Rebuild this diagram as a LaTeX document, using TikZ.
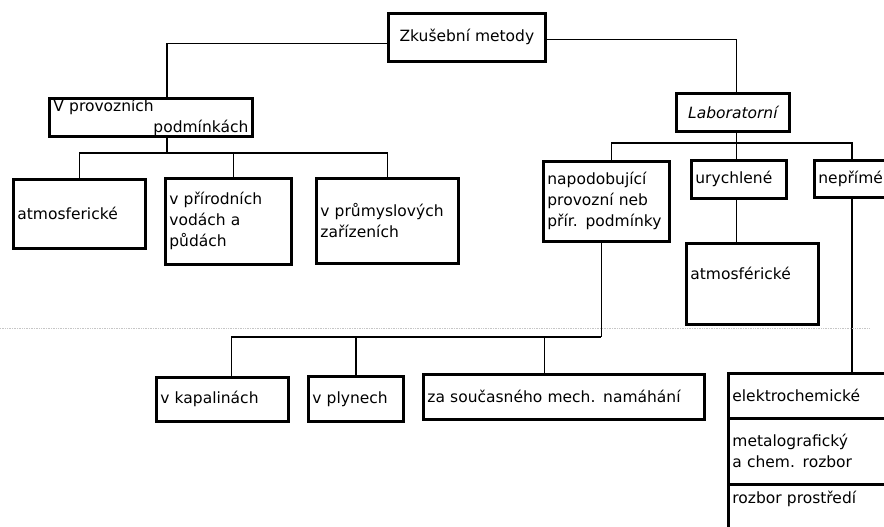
\documentclass[tikz,border=0pt]{standalone}
\usepackage{fontspec}
\setmainfont{DejaVu Sans}

\newcommand*{\wmax}{884}
\newcommand*{\hmax}{527}
\newcommand*{\pismo}{\fontsize{15.5}{21}\selectfont}

\begin{document}
\begin{tikzpicture}
[
	x=1pt,
	y=-1pt,
	blok/.style={draw,line width=2.8pt,anchor=north west,inner xsep=4pt,inner ysep=0pt,align=left,font=\pismo},
	spoj/.style={line width=1.7pt},
	sken/.style={gray!45,densely dotted,line width=0.7pt}
]

	% page
	\useasboundingbox (0,0) rectangle (\wmax,\hmax);
	\clip (0,0) rectangle (\wmax,\hmax);

	% top level
	\node[blok,align=center,minimum width=157pt,minimum height=48pt] (root) at (387,12) {Zkušební metody};
	\node[blok,text width=195pt,minimum height=38pt] (prov) at (48,97) {V provozních\\\hfill podmínkách};
	\node[blok,align=center,font=\pismo\itshape,minimum width=113pt,minimum height=38pt] (lab) at (675,92) {Laboratorní};

	% v provoznich podminkach
	\node[blok,text width=124pt,minimum height=69pt] (atm1) at (12,178) {atmosferické};
	\node[blok,text width=118pt,minimum height=86pt] (prir) at (164,177) {v přírodních\\vodách a\\půdách};
	\node[blok,text width=134pt,minimum height=85pt] (prum) at (315,177) {v průmyslových\\zařízeních};

	% laboratorni
	\node[blok,text width=118pt,minimum height=80pt] (napo) at (542,160) {napodobující\\provozní neb\\přír. podmínky};
	\node[blok,text width=87pt,minimum height=38pt] (uryc) at (690,159) {urychlené};
	\node[blok,text width=124pt,text height=36pt,text depth=45pt] (atm2) at (685,242) {atmosférické};
	\node[blok,text width=100pt,minimum height=37pt] (nepr) at (813,159) {nepřímé};

	% napodobujici
	\node[blok,text width=124pt,minimum height=44pt] (kap) at (155,376) {v kapalinách};
	\node[blok,text width=87pt,minimum height=45pt] (plyn) at (307,375) {v plynech};
	\node[blok,text width=273pt,minimum height=45pt] (souc) at (422,373) {za současného mech. namáhání};

	% neprime
	\node[blok,text width=180pt,minimum height=45pt] (elek) at (727,372) {elektrochemické};
	\node[blok,text width=180pt,minimum height=66pt] (meta) at (727,417) {metalografický\\a chem. rozbor};
	\node[blok,text width=180pt,text height=19pt,text depth=50pt] (rozb) at (727,483) {rozbor prostředí};

	% bus lines
	\coordinate (lbus) at (0,153);
	\coordinate (rbus) at (0,143);
	\coordinate (dbus) at (0,337);

	% connectors
	\draw[spoj] ([yshift=-6pt]root.west) -| ([xshift=16pt]prov.north);
	\draw[spoj] ([yshift=-2pt]root.east) -| ([xshift=3.5pt]lab.north);

	\draw[spoj] ([xshift=16pt]prov.south) -- ([xshift=16pt]prov.south |- lbus);
	\draw[spoj] (atm1.north) |- (prum.north |- lbus) -- (prum.north);
	\draw[spoj] ([xshift=5pt]prir.north) -- ([xshift=5pt]prir.north |- lbus);

	\draw[spoj] ([xshift=3.5pt]lab.south) -- ([xshift=3.5pt]lab.south |- rbus);
	\draw[spoj] ([xshift=5pt]napo.north) |- ([xshift=39pt]nepr.north west |- rbus) -- ([xshift=39pt]nepr.north west);
	\draw[spoj] ([xshift=-2.5pt]uryc.north) -- ([xshift=-2.5pt]uryc.north |- rbus);
	\draw[spoj] ([xshift=-2.5pt]uryc.south) -- ([xshift=-2.5pt]uryc.south |- atm2.north);
	\draw[spoj] ([xshift=39pt]nepr.south west) -- ([xshift=39pt]nepr.south west |- elek.north);

	\draw[spoj] ([xshift=-5pt]napo.south) -- ([xshift=-5pt]napo.south |- dbus);
	\draw[spoj] ([xshift=9pt]kap.north) |- ([xshift=-5pt]napo.south |- dbus);
	\draw[spoj] (plyn.north) -- (plyn.north |- dbus);
	\draw[spoj] ([xshift=-19.5pt]souc.north) -- ([xshift=-19.5pt]souc.north |- dbus);

	% fold of the scan
	\draw[sken] (0,328) -- (870,328);

\end{tikzpicture}
\end{document}
